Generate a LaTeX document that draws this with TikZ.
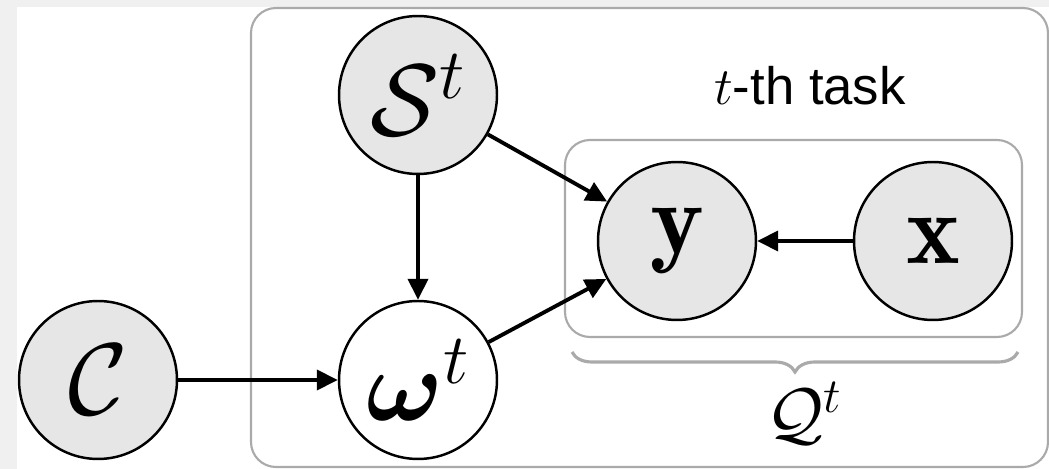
\RequirePackage{fix-cm}
\documentclass[tikz,border=0pt]{standalone}
\usepackage{amsmath,amssymb,bm}
\usepackage{fontspec}
\newfontfamily\taskfont{Liberation Sans}
\usetikzlibrary{arrows.meta,decorations.pathreplacing}
\definecolor{obsgray}{HTML}{E6E6E6}
\definecolor{plategray}{HTML}{AAAAAA}
\definecolor{bggray}{HTML}{F0F0F0}

\begin{document}
\begin{tikzpicture}[>={Triangle[length=0.42cm,width=0.4cm]},x=0.02cm,y=-0.02cm,
    var/.style={draw,circle,line width=1.4pt,minimum size=3.16cm,inner sep=0pt,font=\fontsize{58}{66}\selectfont},
    obs/.style={var,fill=obsgray},
    plate/.style={draw=plategray,line width=1.2pt,rounded corners=0.5cm},
    edge/.style={->,line width=2.2pt}]
            \useasboundingbox (0,0) rectangle (1049,469);
            \fill [bggray] (0,0) rectangle (1049,469);
            \fill [white] (17,7) rectangle (1049,469);
            % plates
            \draw [plate] (251,8) rectangle (1048,467);
            \draw [plate] (565,140) rectangle (1022,337);
            % variables
            \node [obs] (S) at (418,95) {$\mathcal{S}^t$};
            \node [obs] (C) at (98,380) {$\mathcal{C}$};
            \node [var] (w) at (418,380) {$\bm{\omega}^t$};
            \node [obs] (y) at (677,241) {$\mathbf{y}$};
            \node [obs] (x) at (933,241) {$\mathbf{x}$};
            % edges
            \draw [edge] (C) -- (w);
            \draw [edge] (S) -- (w);
            \draw [edge] (S) -- (y);
            \draw [edge] (w) -- (y);
            \draw [edge] (x) -- (y);
            % labels
            \node [anchor=base,font=\fontsize{30}{36}\taskfont] (task) at (810,105) {$t$-th task};
            \coordinate (qa) at (572,352);
            \coordinate (qb) at (1018,352);
            \draw [decorate,decoration={brace,mirror,amplitude=0.4cm},draw=plategray,line width=1.8pt] (qa) -- (qb);
            \node [anchor=base,font=\fontsize{40}{46}\selectfont] (Q) at (804,438) {$\mathcal{Q}^t$};
        \end{tikzpicture}
\end{document}
